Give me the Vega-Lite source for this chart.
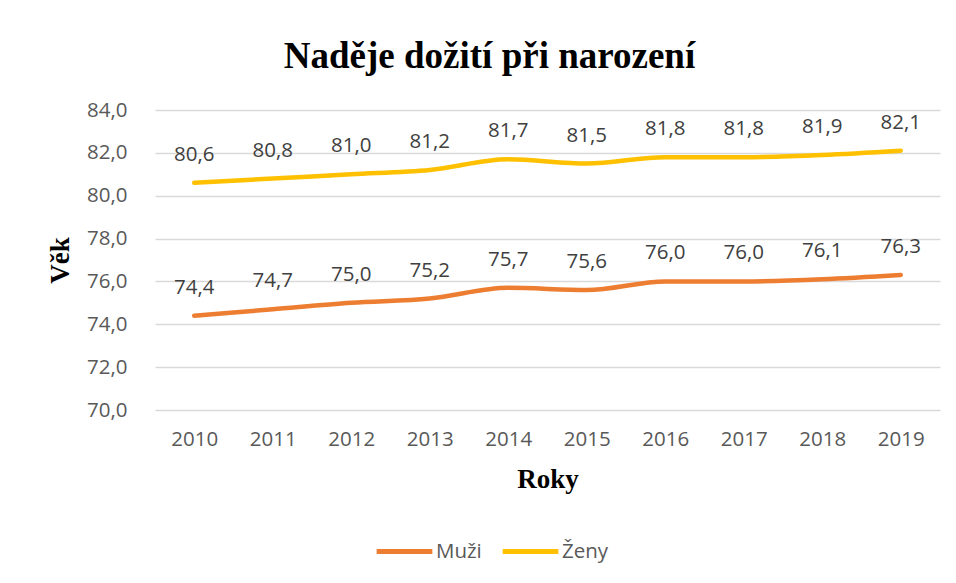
{
  "$schema": "https://vega.github.io/schema/vega-lite/v6.json",
  "width": 785,
  "height": 300,
  "autosize": {"type": "none"},
  "padding": {"left": 155, "top": 110, "right": 16, "bottom": 173},
  "background": "white",
  "config": {
    "locale": {"number": {"decimal": ",", "thousands": " ", "grouping": [3], "currency": ["", " Kč"]}},
    "view": {"stroke": null},
    "axis": {"labelFont": "Open Sans", "labelFontSize": 20.5, "labelColor": "#595959", "titleFont": "Liberation Serif", "titleFontSize": 27, "titleFontWeight": "bold", "titleColor": "black"}
  },
  "title": {"text": "Naděje dožití při narození", "font": "Liberation Serif", "fontSize": 37, "fontWeight": "bold", "color": "black", "anchor": "middle", "dx": -58, "offset": 24},
  "data": {"values": [
    {"rok": "2010", "pohlavi": "Muži", "vek": 74.4},
    {"rok": "2011", "pohlavi": "Muži", "vek": 74.7},
    {"rok": "2012", "pohlavi": "Muži", "vek": 75.0},
    {"rok": "2013", "pohlavi": "Muži", "vek": 75.2},
    {"rok": "2014", "pohlavi": "Muži", "vek": 75.7},
    {"rok": "2015", "pohlavi": "Muži", "vek": 75.6},
    {"rok": "2016", "pohlavi": "Muži", "vek": 76.0},
    {"rok": "2017", "pohlavi": "Muži", "vek": 76.0},
    {"rok": "2018", "pohlavi": "Muži", "vek": 76.1},
    {"rok": "2019", "pohlavi": "Muži", "vek": 76.3},
    {"rok": "2010", "pohlavi": "Ženy", "vek": 80.6},
    {"rok": "2011", "pohlavi": "Ženy", "vek": 80.8},
    {"rok": "2012", "pohlavi": "Ženy", "vek": 81.0},
    {"rok": "2013", "pohlavi": "Ženy", "vek": 81.2},
    {"rok": "2014", "pohlavi": "Ženy", "vek": 81.7},
    {"rok": "2015", "pohlavi": "Ženy", "vek": 81.5},
    {"rok": "2016", "pohlavi": "Ženy", "vek": 81.8},
    {"rok": "2017", "pohlavi": "Ženy", "vek": 81.8},
    {"rok": "2018", "pohlavi": "Ženy", "vek": 81.9},
    {"rok": "2019", "pohlavi": "Ženy", "vek": 82.1}
  ]},
  "encoding": {
    "x": {"field": "rok", "type": "ordinal", "scale": {"type": "point", "padding": 0.5}, "axis": {"title": "Roky", "labelAngle": 0, "ticks": false, "domain": false, "grid": false, "labelPadding": 19, "titlePadding": 17}},
    "y": {"field": "vek", "type": "quantitative", "scale": {"domain": [70, 84], "nice": false, "zero": false}, "axis": {"title": "Věk", "values": [70, 72, 74, 76, 78, 80, 82, 84], "format": ".1f", "ticks": false, "domain": false, "gridColor": "#d9d9d9", "gridWidth": 1.5, "labelPadding": 28, "titlePadding": 12}}
  },
  "layer": [
    {
      "mark": {"type": "line", "interpolate": "monotone", "strokeWidth": 4.5, "strokeCap": "round"},
      "encoding": {
        "color": {"field": "pohlavi", "type": "nominal", "scale": {"domain": ["Muži", "Ženy"], "range": ["#ED7D31", "#FFC000"]},
          "legend": {"title": null, "orient": "none", "direction": "horizontal", "legendX": 219, "legendY": 411, "symbolType": "stroke", "symbolSize": 3100, "symbolStrokeWidth": 5, "labelFont": "Open Sans", "labelFontSize": 20.5, "labelColor": "#595959", "columnPadding": 10, "labelOffset": 1}}
      }
    },
    {
      "mark": {"type": "text", "font": "Open Sans", "fontSize": 20.5, "color": "#404040", "baseline": "bottom", "dy": -18},
      "encoding": {"text": {"field": "vek", "type": "quantitative", "format": ".1f"}}
    }
  ]
}
